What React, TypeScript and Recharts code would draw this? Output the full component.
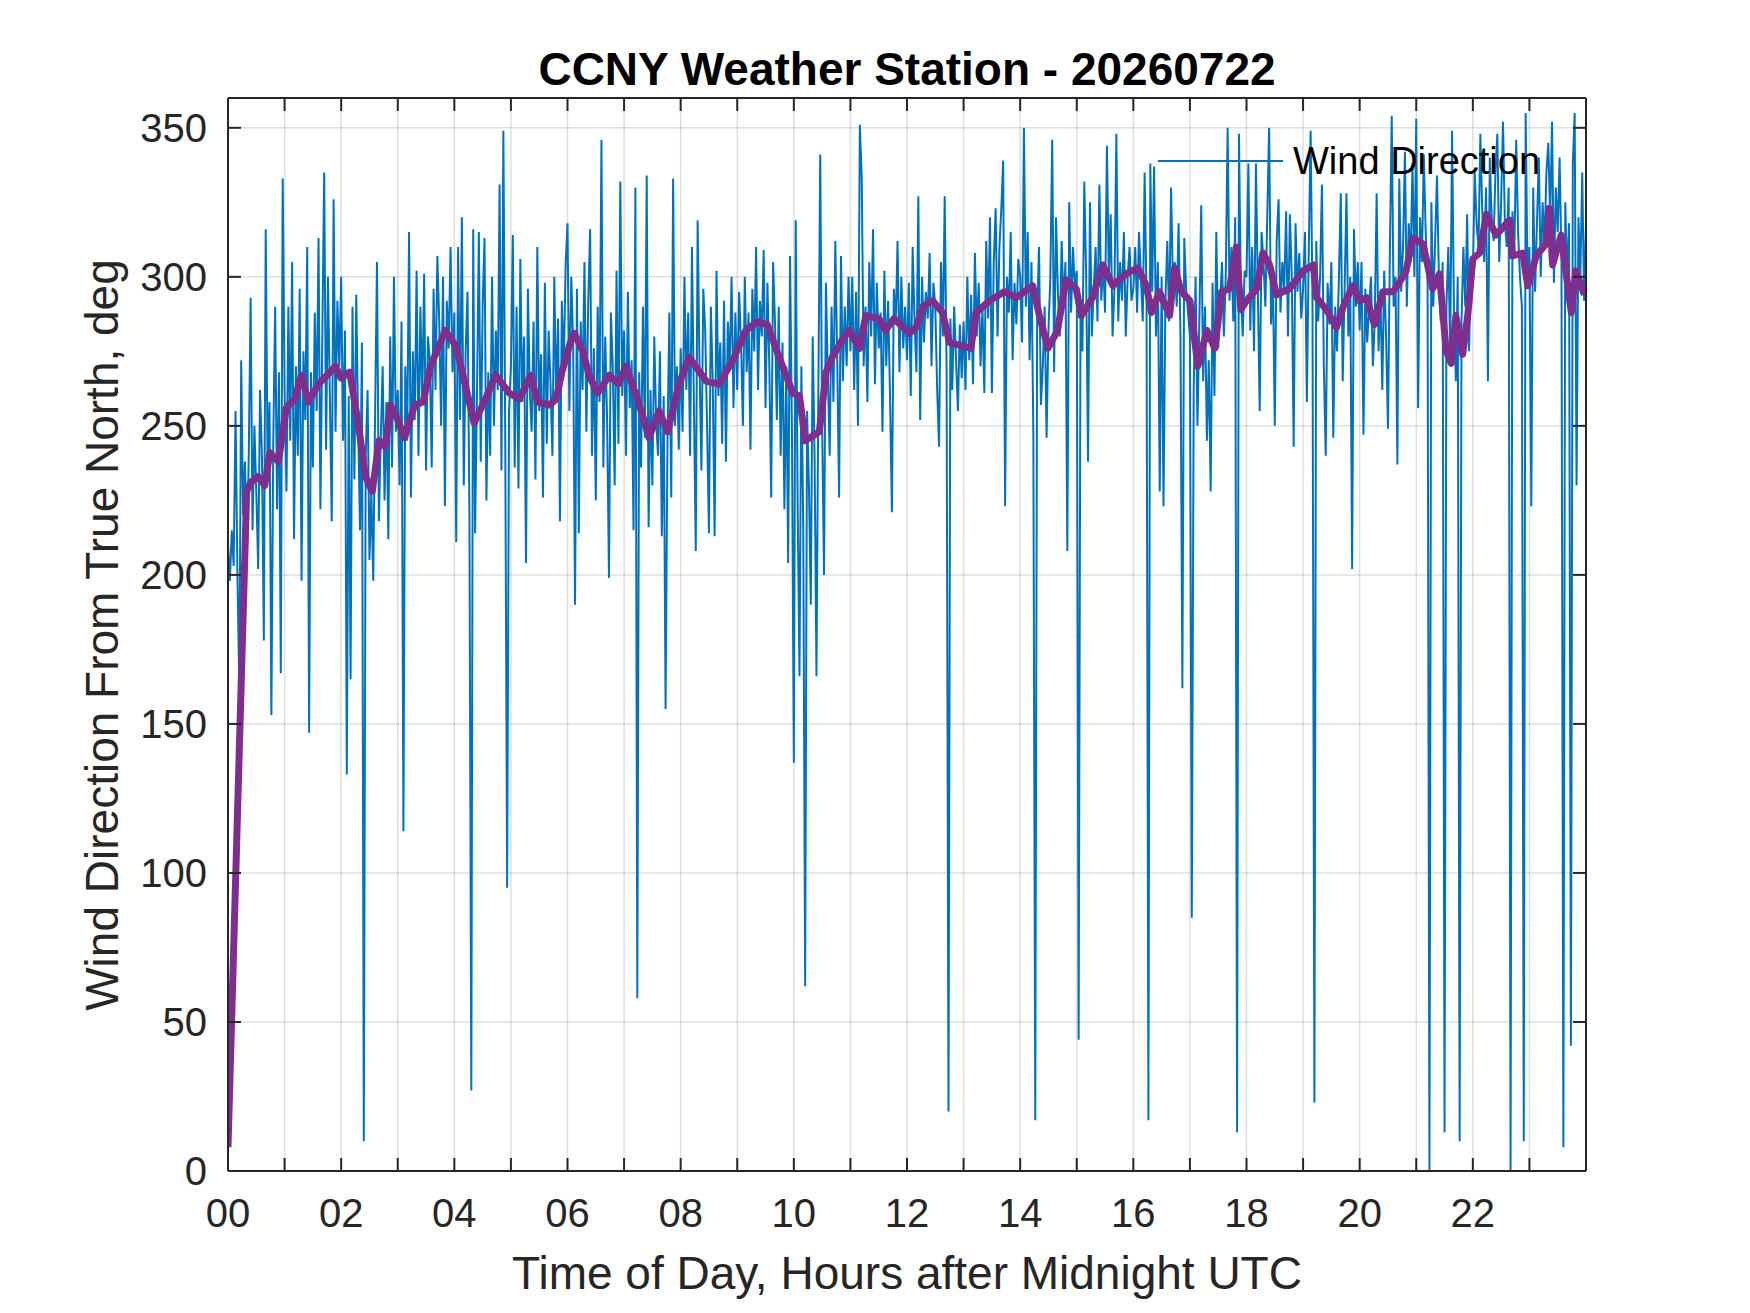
import React from "react";
import { LineChart, Line, XAxis, YAxis, CartesianGrid, Legend } from "recharts";

// Wind direction readings, one every 2 minutes, grouped by hour (deg from true north)
const hour00 = [210, 198, 215, 203, 255, 200, 162, 272, 220, 238, 205, 240, 293, 215, 250, 228, 202, 262, 240, 178, 316, 235, 258, 153, 245, 290, 222, 268, 167, 333];
const hour01 = [262, 228, 290, 245, 305, 212, 270, 240, 296, 198, 275, 252, 310, 147, 268, 236, 288, 255, 313, 222, 280, 335, 242, 300, 260, 218, 326, 248, 292, 270];
const hour02 = [300, 245, 282, 133, 260, 165, 290, 232, 294, 250, 215, 278, 10, 240, 262, 205, 228, 198, 255, 305, 218, 246, 270, 225, 258, 212, 280, 236, 300, 248];
const hour03 = [262, 230, 285, 114, 270, 245, 315, 226, 275, 252, 302, 240, 290, 258, 301, 235, 280, 272, 236, 296, 262, 307, 285, 250, 300, 223, 292, 276, 310, 268];
const hour04 = [288, 211, 310, 252, 320, 230, 275, 295, 220, 27, 316, 214, 260, 315, 238, 290, 313, 225, 268, 240, 300, 250, 282, 262, 331, 235, 349, 245, 95, 255];
const hour05 = [270, 314, 236, 290, 229, 306, 258, 280, 204, 296, 262, 248, 285, 232, 310, 255, 274, 226, 298, 244, 282, 264, 240, 300, 258, 286, 218, 292, 268, 304];
const hour06 = [318, 255, 300, 278, 190, 296, 214, 285, 262, 305, 248, 292, 316, 240, 276, 225, 290, 258, 346, 236, 280, 252, 199, 288, 270, 230, 302, 244, 332, 260];
const hour07 = [282, 240, 295, 256, 272, 215, 330, 58, 268, 236, 290, 246, 334, 216, 262, 230, 280, 252, 240, 275, 213, 260, 155, 245, 288, 226, 333, 250, 270, 242];
const hour08 = [276, 248, 300, 262, 288, 240, 310, 258, 208, 319, 270, 235, 296, 282, 250, 214, 290, 265, 213, 302, 260, 278, 244, 292, 238, 285, 270, 300, 256, 288];
const hour09 = [262, 295, 278, 250, 300, 268, 288, 242, 296, 275, 310, 262, 292, 280, 309, 256, 298, 270, 226, 305, 285, 252, 290, 240, 278, 222, 270, 204, 307, 248];
const hour10 = [137, 319, 225, 166, 270, 215, 62, 255, 230, 190, 280, 240, 166, 262, 341, 250, 200, 298, 268, 240, 290, 258, 312, 272, 226, 307, 265, 290, 270, 300];
const hour11 = [275, 300, 262, 295, 250, 351, 333, 270, 290, 258, 305, 280, 316, 264, 298, 276, 288, 248, 302, 270, 292, 260, 221, 296, 284, 312, 268, 300, 276, 290];
const hour12 = [272, 298, 260, 310, 285, 268, 327, 252, 300, 278, 295, 286, 308, 270, 298, 290, 262, 243, 305, 280, 327, 268, 20, 286, 262, 290, 272, 255, 284, 266];
const hour13 = [285, 262, 300, 272, 294, 264, 308, 280, 298, 270, 290, 261, 312, 286, 320, 261, 305, 323, 280, 310, 323, 339, 223, 300, 288, 315, 272, 298, 284, 306];
const hour14 = [300, 278, 350, 290, 315, 272, 305, 246, 17, 288, 310, 257, 270, 290, 246, 282, 300, 346, 268, 320, 295, 280, 312, 290, 305, 208, 325, 288, 310, 296];
const hour15 = [302, 44, 290, 275, 332, 300, 238, 325, 280, 296, 310, 285, 331, 292, 305, 288, 344, 300, 321, 280, 296, 348, 285, 305, 292, 315, 280, 300, 310, 292];
const hour16 = [296, 310, 288, 315, 300, 285, 335, 292, 17, 338, 295, 337, 280, 305, 228, 300, 223, 292, 312, 285, 330, 298, 305, 290, 318, 280, 162, 313, 296, 288];
const hour17 = [280, 85, 262, 300, 250, 285, 324, 265, 290, 245, 272, 228, 298, 260, 315, 276, 290, 305, 280, 300, 350, 292, 310, 285, 320, 13, 348, 295, 280, 302];
const hour18 = [300, 338, 282, 310, 275, 338, 296, 255, 315, 305, 290, 320, 350, 284, 300, 250, 312, 326, 288, 305, 296, 322, 280, 321, 300, 243, 318, 295, 308, 286];
const hour19 = [296, 315, 258, 308, 349, 290, 23, 312, 285, 300, 331, 270, 240, 298, 284, 305, 246, 290, 275, 300, 328, 265, 295, 328, 280, 300, 202, 316, 290, 305];
const hour20 = [282, 305, 247, 296, 278, 290, 300, 270, 285, 328, 275, 295, 262, 302, 280, 249, 308, 354, 290, 300, 237, 333, 295, 310, 342, 290, 318, 305, 338, 300];
const hour21 = [353, 256, 320, 305, 341, 315, 298, 0, 325, 290, 312, 334, 300, 285, 305, 13, 290, 310, 275, 349, 288, 265, 300, 10, 285, 310, 290, 321, 275, 305];
const hour22 = [300, 335, 318, 310, 348, 322, 305, 330, 265, 340, 320, 312, 335, 348, 305, 325, 352, 318, 310, 330, 0, 322, 308, 346, 315, 300, 290, 10, 355, 300];
const hour23 = [310, 223, 330, 295, 318, 340, 300, 325, 310, 335, 345, 320, 352, 298, 330, 315, 340, 305, 8, 325, 300, 318, 42, 338, 355, 230, 320, 300, 335, 292];
const lastReading = 318;

const hourlyReadings = [
  hour00, hour01, hour02, hour03, hour04, hour05, hour06, hour07, hour08, hour09, hour10, hour11,
  hour12, hour13, hour14, hour15, hour16, hour17, hour18, hour19, hour20, hour21, hour22, hour23,
];
const samplesPerHour = 30;
const windDirection = [...hourlyReadings.flat(), lastReading];
const windData = windDirection.map((v, i) => ({ t: i / samplesPerHour, v }));

// Smoothed (running mean) wind direction
const avgTimes = [
  0, 0.33, 0.4, 0.53, 0.65, 0.74, 0.89, 1.03, 1.18, 1.3, 1.42, 1.6, 1.9, 2.0, 2.15, 2.3, 2.43, 2.55, 2.67, 2.78,
  2.87, 3.0, 3.12, 3.3, 3.45, 3.58, 3.84, 4.02, 4.14, 4.35, 4.55, 4.73, 4.97, 5.15, 5.35, 5.47, 5.68, 5.8, 5.9, 6.05,
  6.12, 6.27, 6.38, 6.53, 6.74, 6.9, 7.03, 7.2, 7.35, 7.44, 7.62, 7.77, 7.97, 8.15, 8.45, 8.68, 8.92, 9.15, 9.36, 9.53,
  9.74, 9.98, 10.1, 10.2, 10.45, 10.57, 10.68, 10.86, 10.98, 11.16, 11.27, 11.5, 11.62, 11.77, 12.04, 12.16, 12.28, 12.45, 12.63, 12.75,
  12.93, 13.13, 13.22, 13.46, 13.72, 13.93, 14.22, 14.34, 14.49, 14.66, 14.81, 14.99, 15.08, 15.28, 15.46, 15.64, 15.87, 16.08, 16.23, 16.32,
  16.46, 16.64, 16.73, 16.85, 17.0, 17.14, 17.3, 17.44, 17.56, 17.7, 17.82, 17.9, 18.0, 18.18, 18.29, 18.41, 18.53, 18.76, 19.0, 19.18,
  19.24, 19.41, 19.59, 19.71, 19.88, 20.0, 20.12, 20.26, 20.41, 20.59, 20.7, 20.82, 20.94, 21.12, 21.29, 21.41, 21.53, 21.62, 21.7, 21.82,
  21.91, 22.0, 22.12, 22.24, 22.41, 22.65, 22.7, 22.88, 22.97, 23.12, 23.29, 23.35, 23.41, 23.56, 23.65, 23.74, 23.82, 23.97,
];
const avgValues = [
  8, 228, 231, 233, 230, 241, 238, 256, 259, 267, 258, 264, 270, 266, 268, 251, 233, 228, 245, 243,
  257, 252, 246, 257, 258, 270, 282, 277, 268, 251, 259, 267, 261, 259, 267, 258, 257, 259, 268, 278,
  281, 275, 267, 261, 267, 264, 270, 261, 252, 246, 255, 248, 264, 273, 265, 264, 272, 282, 285, 284,
  273, 261, 260, 245, 248, 268, 273, 279, 282, 276, 287, 286, 282, 286, 281, 283, 290, 292, 288, 278,
  277, 276, 288, 292, 295, 293, 297, 287, 276, 282, 299, 296, 287, 293, 304, 297, 301, 303, 297, 288,
  295, 287, 303, 295, 292, 270, 282, 276, 295, 296, 310, 289, 292, 296, 308, 304, 294, 296, 302, 304,
  293, 289, 283, 290, 297, 292, 293, 284, 295, 295, 298, 302, 313, 311, 296, 301, 275, 271, 287, 274,
  287, 306, 308, 321, 314, 319, 307, 308, 297, 307, 311, 323, 304, 314, 301, 288, 302, 294,
];
const avgData = avgTimes.map((t, i) => ({ t, v: avgValues[i] }));

const hourTicks = [0, 1, 2, 3, 4, 5, 6, 7, 8, 9, 10, 11, 12, 13, 14, 15, 16, 17, 18, 19, 20, 21, 22, 23];
const xTickLabels = ["00", "02", "04", "06", "08", "10", "12", "14", "16", "18", "20", "22"];
const yTicks = [0, 50, 100, 150, 200, 250, 300, 350];

const titleText = "CCNY Weather Station - 20260722";
const xLabelText = "Time of Day, Hours after Midnight UTC";
const yLabelText = "Wind Direction From True North, deg";

const FONT = '"Liberation Sans", Arial, Helvetica, sans-serif';
const AXIS = "#262626";
const W = 1734;
const H = 1297;

const NoLabel = () => <g />;

const renderLegend = (props: any) => {
  const items = (props.payload || []).filter((p: any) => p.type !== "none" && p.value === "Wind Direction");
  const item = items[0];
  return (
    <div style={{ display: "flex", alignItems: "center", height: 50 }}>
      <svg width={125} height={10} style={{ display: "block" }}>
        <line x1={0} y1={5} x2={125} y2={5} stroke="#0072BD" strokeWidth={2} />
      </svg>
      <span style={{ marginLeft: 10, fontSize: 38, fontFamily: FONT, color: "#000", lineHeight: "50px", whiteSpace: "nowrap" }}>
        {item ? item.value : "Wind Direction"}
      </span>
    </div>
  );
};

export default function App() {
  const tickStyle = { fontSize: 40, fill: AXIS, fontFamily: FONT };
  const frameLine = { stroke: AXIS, strokeWidth: 2 };
  return (
    <div style={{ position: "relative", width: W, height: H, background: "#fff" }}>
      <LineChart width={W} height={H} margin={{ top: 90, right: 156, bottom: 54, left: 100 }}>
        <CartesianGrid
          xAxisId="main"
          yAxisId="main"
          stroke={AXIS}
          strokeOpacity={0.15}
          strokeWidth={1.5}
          horizontal
          vertical
        />
        <XAxis
          xAxisId="main"
          type="number"
          dataKey="t"
          domain={[0, 24]}
          allowDataOverflow
          ticks={hourTicks}
          interval={0}
          tickFormatter={(h: number) => (h % 2 === 0 ? xTickLabels[h / 2] : "")}
          axisLine={false}
          tickLine={false}
          tickSize={0}
          tickMargin={28}
          height={80}
          tick={tickStyle}
        />
        <YAxis
          yAxisId="main"
          type="number"
          domain={[0, 360]}
          allowDataOverflow
          ticks={yTicks}
          interval={0}
          axisLine={false}
          tickLine={false}
          tickSize={0}
          tickMargin={21}
          width={120}
          tick={tickStyle}
        />
        <XAxis
          xAxisId="bottomTicks"
          orientation="bottom"
          mirror
          type="number"
          dataKey="t"
          domain={[0, 24]}
          allowDataOverflow
          ticks={hourTicks}
          interval={0}
          tick={NoLabel}
          tickSize={13}
          height={1}
          axisLine={frameLine}
          tickLine={frameLine}
        />
        <XAxis
          xAxisId="topTicks"
          orientation="top"
          mirror
          type="number"
          dataKey="t"
          domain={[0, 24]}
          allowDataOverflow
          ticks={hourTicks}
          interval={0}
          tick={NoLabel}
          tickSize={13}
          height={1}
          axisLine={frameLine}
          tickLine={frameLine}
        />
        <YAxis
          yAxisId="leftTicks"
          orientation="left"
          mirror
          type="number"
          domain={[0, 360]}
          allowDataOverflow
          ticks={yTicks}
          interval={0}
          tick={NoLabel}
          tickSize={13}
          width={1}
          axisLine={frameLine}
          tickLine={frameLine}
        />
        <YAxis
          yAxisId="rightTicks"
          orientation="right"
          mirror
          type="number"
          domain={[0, 360]}
          allowDataOverflow
          ticks={yTicks}
          interval={0}
          tick={NoLabel}
          tickSize={13}
          width={1}
          axisLine={frameLine}
          tickLine={frameLine}
        />
        <Line
          xAxisId="main"
          yAxisId="main"
          data={windData}
          dataKey="v"
          name="Wind Direction"
          type="linear"
          stroke="#0072BD"
          strokeWidth={2}
          dot={false}
          activeDot={false}
          isAnimationActive={false}
        />
        <Line
          xAxisId="main"
          yAxisId="main"
          data={avgData}
          dataKey="v"
          name="Running Mean"
          type="linear"
          stroke="#7E2F8E"
          strokeWidth={7}
          strokeLinejoin="round"
          dot={false}
          activeDot={false}
          legendType="none"
          isAnimationActive={false}
        />
        <Line
          xAxisId="bottomTicks"
          yAxisId="leftTicks"
          data={windData}
          dataKey="v"
          name="frame-a"
          stroke="none"
          strokeWidth={0}
          dot={false}
          activeDot={false}
          legendType="none"
          isAnimationActive={false}
        />
        <Line
          xAxisId="topTicks"
          yAxisId="rightTicks"
          data={windData}
          dataKey="v"
          name="frame-b"
          stroke="none"
          strokeWidth={0}
          dot={false}
          activeDot={false}
          legendType="none"
          isAnimationActive={false}
        />
        <Legend
          layout="horizontal"
          verticalAlign="middle"
          align="center"
          content={renderLegend}
          wrapperStyle={{ position: "absolute", left: 1150, top: 128, width: 420, height: 50 }}
        />
      </LineChart>
      <svg
        width={W}
        height={H}
        style={{ position: "absolute", left: 0, top: 0, pointerEvents: "none" }}
      >
        <text x={899} y={77} textAnchor="middle" fontFamily={FONT} fontSize={46} fontWeight="bold" fill="#000">
          {titleText}
        </text>
        <text x={899} y={1281} textAnchor="middle" fontFamily={FONT} fontSize={46} fill={AXIS}>
          {xLabelText}
        </text>
        <text
          x={110}
          y={627}
          textAnchor="middle"
          fontFamily={FONT}
          fontSize={46}
          fill={AXIS}
          transform="rotate(-90, 110, 627)"
        >
          {yLabelText}
        </text>
      </svg>
    </div>
  );
}
